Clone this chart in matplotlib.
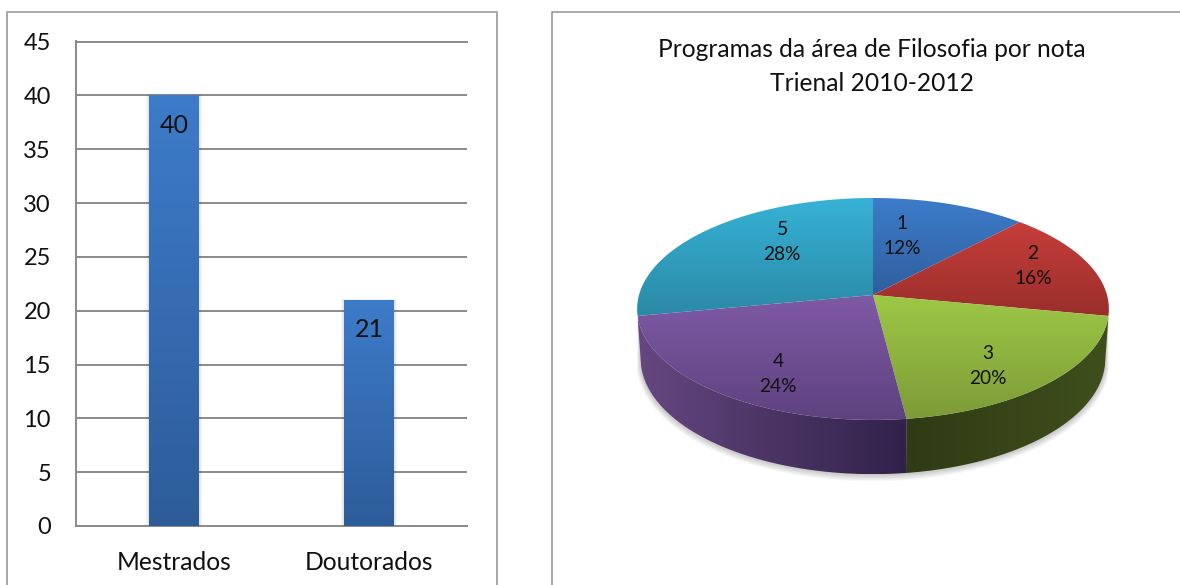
import numpy as np
import matplotlib
matplotlib.use('Agg')
import matplotlib.pyplot as plt
from matplotlib.colors import LinearSegmentedColormap
from matplotlib.lines import Line2D
from matplotlib.patches import Polygon, Rectangle

plt.rcParams['font.family'] = ['Lato', 'DejaVu Sans']

# dados
categorias = ['Mestrados', 'Doutorados']
programas = [40, 21]
y_ticks = [0, 5, 10, 15, 20, 25, 30, 35, 40, 45]

notas = ['1', '2', '3', '4', '5']
percentuais = [12, 16, 20, 24, 28]
titulo = 'Programas da área de Filosofia por nota\nTrienal 2010-2012'

# cores
topo_cores = [('#3d7cca', '#2f5f9e'), ('#c63e3a', '#9a2e2b'), ('#9ec847', '#7d9b37'),
              ('#7f5aa5', '#5e427f'), ('#36b2d6', '#2b89a6')]
# so as fatias 3 e 4 mostram a parede lateral (cores da esquerda para a direita)
lado_cores = {2: ('#2f3b14', '#3f4f1c'), 3: ('#65477f', '#31224a')}
posicao_rotulos = [(902, 236), (1033, 266), (988, 366), (778, 374), (782, 242)]

W, H = 1180, 585
COR_LINHA = '#8a8a8a'
TEXTO = '#111111'

fig = plt.figure(figsize=(W / 100, H / 100), dpi=100)

# camada em pixels para molduras e pizza
fundo = fig.add_axes([0, 0, 1, 1])
fundo.set_xlim(0, W)
fundo.set_ylim(H, 0)
fundo.axis('off')

cinza = '#a0a0a0'
for xs, ys in [((6.5, 6.5, 497, 497), (585, 11.5, 11.5, 585)),
               ((551.5, 551.5, 1180), (585, 11.5, 11.5))]:
    fundo.add_line(Line2D(xs, ys, color=cinza, lw=1.3))

# grafico de barras
x0, x1, y0, y1 = 76, 467, 41.5, 526
ax = fig.add_axes([x0 / W, 1 - y1 / H, (x1 - x0) / W, (y1 - y0) / H])
ax.patch.set_alpha(0)
pos = np.arange(len(categorias)) + 0.5
largura = 50 / 195.5
cmap_barra = LinearSegmentedColormap.from_list('barra', ['#3d7cca', '#2d5c99'])
grad = np.linspace(0, 1, 256).reshape(-1, 1)
ax.set_axisbelow(True)
ax.grid(axis='y', color=COR_LINHA, lw=1.4)
for p, v in zip(pos, programas):
    # sombra leve da barra
    for d in (3, 2, 1):
        ax.add_patch(Rectangle((p - largura / 2 - d * 0.005, 0), largura + d * 0.01, v + d * 0.03,
                               fc='black', ec='none', alpha=0.035, zorder=2))
    barra = ax.bar(p, v, largura, color='none', zorder=3)[0]
    img = ax.imshow(grad, extent=(p - largura / 2, p + largura / 2, 0, v), cmap=cmap_barra,
                    aspect='auto', zorder=3, origin='upper')
    img.set_clip_path(barra)
    ax.annotate(str(v), (p, v), xytext=(0, -21.5), textcoords='offset points', ha='center',
                va='center', fontsize=18, color=TEXTO, zorder=5)
ax.set_xlim(0, 2)
ax.set_ylim(0, 45)
ax.set_yticks(y_ticks)
ax.set_xticks(pos)
ax.set_xticklabels(categorias)
ax.tick_params(axis='y', length=0, pad=18, labelsize=17, labelcolor=TEXTO)
ax.tick_params(axis='x', length=0, pad=18, labelsize=17.7, labelcolor=TEXTO)
ax.spines['right'].set_visible(False)
for lado in ('left', 'bottom', 'top'):
    ax.spines[lado].set_color(COR_LINHA)
    ax.spines[lado].set_linewidth(1.4)

# pizza em perspectiva
CX, CY, RX, RY, K, PROF = 873, 295, 234, 109.2, 0.126, 49
R_BASE = 0.985


def projeta(t, r=1.0, z=0.0):
    esc = 1 / (1 + K * np.cos(t))
    return CX + RX * r * np.sin(t) * esc, CY - RY * r * np.cos(t) * esc + z * esc


bordas = np.cumsum([0] + percentuais) / sum(percentuais) * 2 * np.pi
tt = np.linspace(bordas[2], bordas[4], 200)

# sombra suave abaixo da pizza
for w in range(8, 0, -1):
    xb, yb = projeta(tt, R_BASE + w * 0.0022, PROF + w * 0.55)
    xt, yt = projeta(tt[::-1], 1, 0)
    fundo.add_patch(Polygon(np.c_[np.r_[xb, xt], np.r_[yb, yt]], fc='black', ec='none',
                            alpha=0.028, zorder=2))

# parede lateral com gradiente horizontal
grad_h = np.linspace(0, 1, 256).reshape(1, -1)
for i, cores in lado_cores.items():
    ts = np.linspace(bordas[i], bordas[i + 1], 120)
    xa, ya = projeta(ts)
    xb, yb = projeta(ts[::-1], R_BASE, PROF)
    pts = np.c_[np.r_[xa, xb], np.r_[ya, yb]]
    parede = Polygon(pts, closed=True, fc='none', ec='none', zorder=3)
    fundo.add_patch(parede)
    cm = LinearSegmentedColormap.from_list('l%d' % i, cores)
    img = fundo.imshow(grad_h, extent=(pts[:, 0].min(), pts[:, 0].max(), pts[:, 1].max(), pts[:, 1].min()),
                       cmap=cm, aspect='auto', zorder=3)
    img.set_clip_path(parede)

# faces superiores com gradiente
for i in range(len(percentuais)):
    ts = np.linspace(bordas[i], bordas[i + 1], 120)
    xs, ys = projeta(ts)
    pts = np.r_[[[CX, CY]], np.c_[xs, ys]]
    fatia = Polygon(pts, closed=True, fc='none', ec='none', zorder=4)
    fundo.add_patch(fatia)
    cm = LinearSegmentedColormap.from_list('f%d' % i, topo_cores[i])
    img = fundo.imshow(grad, extent=(pts[:, 0].min(), pts[:, 0].max(), pts[:, 1].max(), pts[:, 1].min()),
                       cmap=cm, aspect='auto', zorder=4)
    img.set_clip_path(fatia)
    fundo.text(posicao_rotulos[i][0], posicao_rotulos[i][1],
               '%s\n%d%%' % (notas[i], percentuais[i]), ha='center', va='center',
               fontsize=13.8, linespacing=1.6, color=TEXTO, zorder=6)
fundo.set_xlim(0, W)
fundo.set_ylim(H, 0)

fundo.text(872, 66.5, titulo, ha='center', va='center', fontsize=17.7, linespacing=1.6, color=TEXTO)

fig.savefig('out.png', dpi=100)
